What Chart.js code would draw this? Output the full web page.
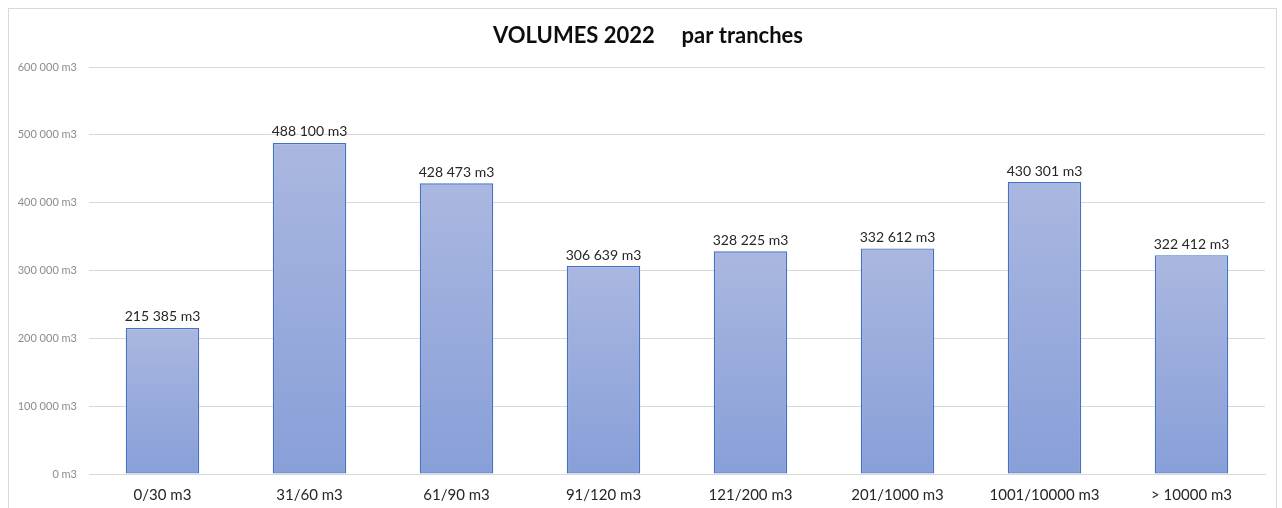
<!DOCTYPE html>
<html>
<head>
<meta charset="utf-8">
<script src="https://cdn.jsdelivr.net/npm/chart.js@4/dist/chart.umd.min.js"></script>
<style>
  html, body { margin: 0; padding: 0; background: #fff; }
  #wrap { position: relative; width: 1282px; height: 508px; }
  #frame { position: absolute; left: 8px; top: 8px; width: 1269px; height: 520px; border: 1px solid #d9d9d9; box-sizing: border-box; pointer-events: none; }
  canvas { position: absolute; left: 0; top: 0; }
</style>
</head>
<body>
<div id="wrap">
  <canvas id="chart" width="1282" height="508"></canvas>
  <div id="frame"></div>
</div>
<script>
const categories = ['0/30 m3', '31/60 m3', '61/90 m3', '91/120 m3', '121/200 m3', '201/1000 m3', '1001/10000 m3', '> 10000 m3'];
const volumes = [215385, 488100, 428473, 306639, 328225, 332612, 430301, 322412];
const yTicks = [0, 100000, 200000, 300000, 400000, 500000, 600000];
const title = 'VOLUMES 2022     par tranches';

const FONT = 'Lato, "Open Sans", sans-serif';

function fmt(v) {
  return String(v).replace(/\B(?=(\d{3})+(?!\d))/g, ' ') + ' m3';
}

// value labels above each bar
const barLabels = {
  id: 'barLabels',
  afterDatasetsDraw(chart) {
    const ctx = chart.ctx;
    const meta = chart.getDatasetMeta(0);
    ctx.save();
    ctx.font = '14px ' + FONT;
    ctx.fillStyle = '#262626';
    ctx.textAlign = 'center';
    ctx.textBaseline = 'bottom';
    meta.data.forEach((bar, i) => {
      ctx.fillText(fmt(volumes[i]), bar.x, bar.y - 4);
    });
    ctx.restore();
  }
};

// title drawn by hand so it sits where Excel put it
const chartTitle = {
  id: 'chartTitle',
  afterDraw(chart) {
    const ctx = chart.ctx;
    ctx.save();
    ctx.font = 'bold 22px ' + FONT;
    ctx.fillStyle = '#0d0d0d';
    ctx.textAlign = 'center';
    ctx.textBaseline = 'middle';
    ctx.fillText(title, 648, 36);
    ctx.restore();
  }
};

function barFill(context) {
  const chart = context.chart;
  const y = chart.scales.y;
  if (!chart.chartArea || !y || context.raw == null) return '#98abdc';
  const top = y.getPixelForValue(context.raw);
  const bottom = y.getPixelForValue(0);
  if (!isFinite(top) || !isFinite(bottom) || top === bottom) return '#98abdc';
  const g = chart.ctx.createLinearGradient(0, top, 0, bottom);
  g.addColorStop(0, '#aab7e0');
  g.addColorStop(1, '#889fd8');
  return g;
}

new Chart(document.getElementById('chart'), {
  type: 'bar',
  data: {
    labels: categories,
    datasets: [{
      data: volumes,
      backgroundColor: barFill,
      borderColor: '#4472c4',
      borderWidth: 1.3,
      borderSkipped: false,
      inflateAmount: 0,
      barPercentage: 0.5,
      categoryPercentage: 1
    }]
  },
  options: {
    responsive: false,
    animation: false,
    layout: { padding: { left: 0, right: 17, top: 67, bottom: 6 } },
    plugins: {
      legend: { display: false },
      tooltip: { enabled: false },
      title: { display: false }
    },
    scales: {
      x: {
        afterFit(scale) { scale.height = 28; },
        grid: { display: false, drawTicks: false },
        border: { display: true, color: '#d9d9d9' },
        ticks: { color: '#262626', font: { family: FONT, size: 15 }, padding: 12, maxRotation: 0 }
      },
      y: {
        min: 0,
        max: 600000,
        afterFit(scale) { scale.width = 89; },
        afterBuildTicks(scale) { scale.ticks = yTicks.map(v => ({ value: v })); },
        grid: { color: '#d9d9d9', drawTicks: false },
        border: { display: false },
        ticks: {
          color: '#8c8c8c',
          font: { family: FONT, size: 11 },
          padding: 12,
          callback: v => fmt(v)
        }
      }
    }
  },
  plugins: [barLabels, chartTitle]
});
</script>
</body>
</html>
